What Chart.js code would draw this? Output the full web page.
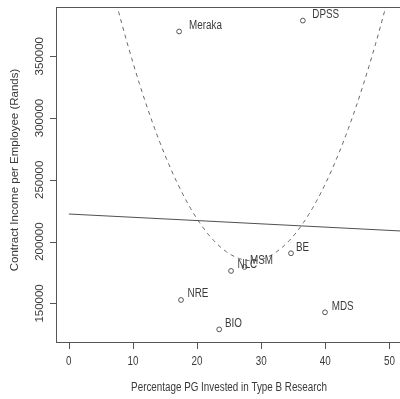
<!DOCTYPE html>
<html>
<head>
<meta charset="utf-8">
<script src="https://cdn.jsdelivr.net/npm/chart.js@4/dist/chart.umd.min.js"></script>
<style>
  html, body { margin: 0; padding: 0; background: #fff; overflow: hidden; }
  #wrap { width: 400px; height: 399px; }
</style>
</head>
<body>
<div id="wrap"><canvas id="c" width="400" height="399"></canvas></div>
<script>
// Research units: share of PG invested in Type B research vs contract income per employee
const units = ['Meraka', 'DPSS', 'BE', 'NLC', 'MSM', 'NRE', 'BIO', 'MDS'];
const pctTypeB = [17.2, 36.5, 34.65, 25.3, 27.4, 17.5, 23.45, 39.95];
const incomePerEmployee = [370000, 378800, 190600, 176300, 179500, 152800, 129000, 142830];
const xTicks = [0, 10, 20, 30, 40, 50];
const yTicks = [150000, 200000, 250000, 300000, 350000];
const xTitle = 'Percentage PG Invested in Type B Research';
const yTitle = 'Contract Income per Employee (Rands)';
// horizontal nudge of each unit label, in pixels
const labelNudge = [10, 9.5, 5, 6.5, 5.5, 6.5, 5.7, 6.7];

// Least-squares polynomial fit (degree 1 or 2) via normal equations
function polyFit(xs, ys, deg) {
  const n = deg + 1;
  const A = [];
  for (let i = 0; i < n; i++) A.push(new Array(n + 1).fill(0));
  for (let k = 0; k < xs.length; k++) {
    for (let i = 0; i < n; i++) {
      for (let j = 0; j < n; j++) A[i][j] += Math.pow(xs[k], i + j);
      A[i][n] += ys[k] * Math.pow(xs[k], i);
    }
  }
  for (let i = 0; i < n; i++) {
    for (let r = 0; r < n; r++) {
      if (r === i) continue;
      const f = A[r][i] / A[i][i];
      for (let c = 0; c <= n; c++) A[r][c] -= f * A[i][c];
    }
  }
  const out = [];
  for (let i = 0; i < n; i++) out.push(A[i][n] / A[i][i]);
  return out;
}
function evalPoly(coef, x) {
  let s = 0;
  for (let i = 0; i < coef.length; i++) s += coef[i] * Math.pow(x, i);
  return s;
}

// linear and quadratic trend fitted to the units
const linCoef = polyFit(pctTypeB, incomePerEmployee, 1);
const quadCoef = polyFit(pctTypeB, incomePerEmployee, 2);

const X_MIN = -2, X_MAX = 51.65;
const linePts = [0, 52].map(x => ({x: x, y: evalPoly(linCoef, x)}));
const curvePts = [];
for (let x = X_MIN; x <= 52.001; x += 0.2) curvePts.push({x: x, y: evalPoly(quadCoef, x)});

const pts = pctTypeB.map((x, i) => ({x: x, y: incomePerEmployee[i]}));

const TEXT = '#3a3a3a';
const AXIS = '#555';
const SQUEEZE = 0.82;

function hText(ctx, str, x, y, size, align) {
  ctx.save();
  ctx.font = size + 'px "Liberation Sans", Arial, sans-serif';
  ctx.textBaseline = 'middle';
  ctx.textAlign = align;
  ctx.translate(x, y);
  ctx.scale(SQUEEZE, 1);
  ctx.fillText(str, 0, 0);
  ctx.restore();
}
function vText(ctx, str, x, y, size) {
  ctx.save();
  ctx.font = size + 'px "Liberation Sans", Arial, sans-serif';
  ctx.textBaseline = 'middle';
  ctx.textAlign = 'center';
  ctx.translate(x, y);
  ctx.rotate(-Math.PI / 2);
  ctx.fillText(str, 0, 0);
  ctx.restore();
}

const frameAndAxes = {
  id: 'frameAndAxes',
  afterDraw(chart) {
    const {ctx, chartArea: a, scales: {x, y}} = chart;
    ctx.save();
    ctx.strokeStyle = AXIS;
    ctx.lineWidth = 1;
    // plot box (its right side runs just past the canvas)
    ctx.strokeRect(a.left + 0.5, a.top + 0.5, a.right + 3 - a.left, a.bottom - a.top);
    ctx.beginPath();
    xTicks.forEach(v => {
      const px = Math.round(x.getPixelForValue(v)) + 0.5;
      ctx.moveTo(px, a.bottom + 0.5);
      ctx.lineTo(px, a.bottom + 7);
    });
    yTicks.forEach(v => {
      const py = Math.round(y.getPixelForValue(v)) + 0.5;
      ctx.moveTo(a.left + 0.5, py);
      ctx.lineTo(a.left - 6, py);
    });
    ctx.stroke();
    ctx.fillStyle = TEXT;
    xTicks.forEach(v => hText(ctx, String(v), x.getPixelForValue(v), a.bottom + 20, 12, 'center'));
    yTicks.forEach(v => vText(ctx, String(v), a.left - 16, y.getPixelForValue(v), 11.5));
    hText(ctx, xTitle, 229, 388, 12, 'center');
    vText(ctx, yTitle, 15, 170, 11.5);
    ctx.restore();
  },
  afterDatasetsDraw(chart) {
    const {ctx} = chart;
    const meta = chart.getDatasetMeta(0);
    ctx.save();
    ctx.fillStyle = TEXT;
    meta.data.forEach((el, i) => hText(ctx, units[i], el.x + labelNudge[i], el.y - 6, 12, 'left'));
    ctx.restore();
  }
};

new Chart(document.getElementById('c'), {
  type: 'scatter',
  data: {
    datasets: [
      {
        data: pts,
        pointStyle: 'circle',
        pointRadius: 2.4,
        pointBorderWidth: 1,
        pointBorderColor: '#555',
        pointBackgroundColor: 'rgba(0,0,0,0)',
        showLine: false
      },
      {
        data: linePts,
        showLine: true,
        borderColor: '#505050',
        borderWidth: 1,
        pointRadius: 0,
        fill: false
      },
      {
        data: curvePts,
        showLine: true,
        borderColor: '#666',
        borderWidth: 1,
        borderDash: [4, 4],
        pointRadius: 0,
        fill: false
      }
    ]
  },
  options: {
    responsive: false,
    animation: false,
    devicePixelRatio: 1,
    layout: {autoPadding: false, padding: {top: 7, right: 0, left: 0, bottom: 0}},
    plugins: {legend: {display: false}, tooltip: {enabled: false}},
    scales: {
      x: {
        type: 'linear', min: X_MIN, max: X_MAX,
        grid: {display: false}, border: {display: false},
        ticks: {display: false},
        afterFit: s => { s.height = 57; }
      },
      y: {
        type: 'linear', min: 118800, max: 389800,
        grid: {display: false}, border: {display: false},
        ticks: {display: false},
        afterFit: s => { s.width = 56; }
      }
    }
  },
  plugins: [frameAndAxes]
});
</script>
</body>
</html>
